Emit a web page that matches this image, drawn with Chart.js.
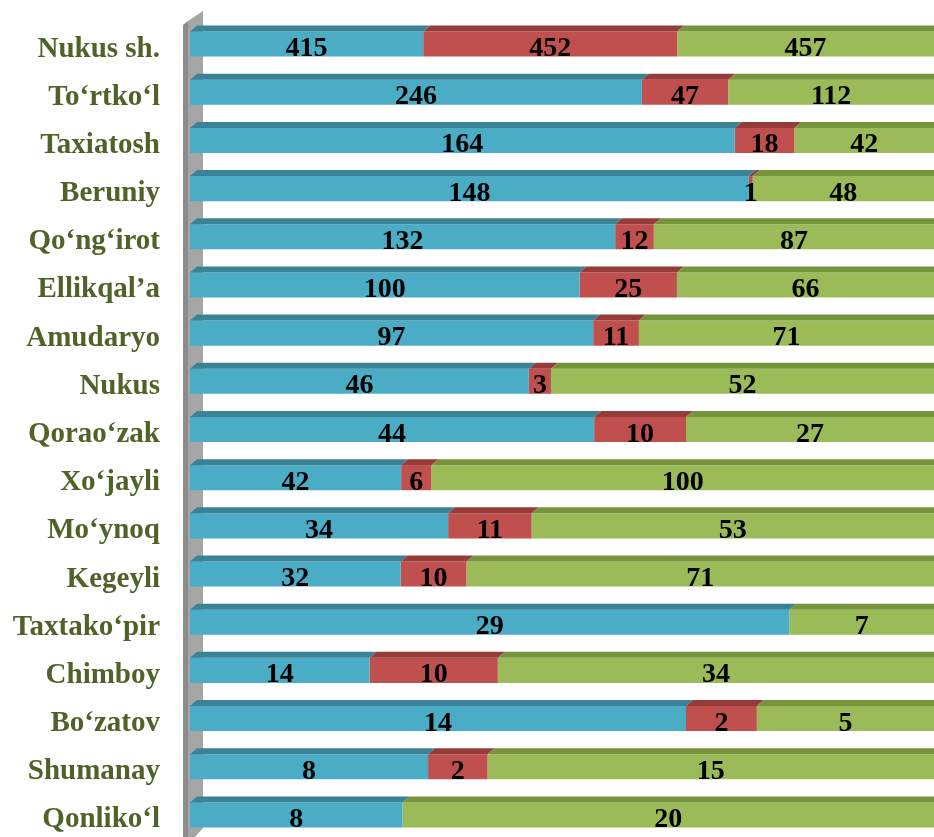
<!DOCTYPE html>
<html>
<head>
<meta charset="utf-8">
<script src="https://cdn.jsdelivr.net/npm/chart.js@4/dist/chart.umd.min.js"></script>
<style>
  html, body { margin: 0; padding: 0; background: #fff; overflow: hidden; }
  #wrap { width: 934px; height: 840px; }
</style>
</head>
<body>
<div id="wrap"><canvas id="chart" width="934" height="840"></canvas></div>
<script>
const tumanlar = ['Nukus sh.', 'To‘rtko‘l', 'Taxiatosh', 'Beruniy', 'Qo‘ng‘irot', 'Ellikqal’a', 'Amudaryo', 'Nukus',
  'Qorao‘zak', 'Xo‘jayli', 'Mo‘ynoq', 'Kegeyli', 'Taxtako‘pir', 'Chimboy', 'Bo‘zatov', 'Shumanay', 'Qonliko‘l'];
const ko_k = [415, 246, 164, 148, 132, 100, 97, 46, 44, 42, 34, 32, 29, 14, 14, 8, 8];
const qizil = [452, 47, 18, 1, 12, 25, 11, 3, 10, 6, 11, 10, 0, 10, 2, 2, 0];
const yashil = [457, 112, 42, 48, 87, 66, 71, 52, 27, 100, 53, 71, 7, 34, 5, 15, 20];

const SERIF = '"Liberation Serif", "Times New Roman", serif';

// 100% stacked: each row is turned into shares of its own total
const jami = tumanlar.map((_, i) => ko_k[i] + qizil[i] + yashil[i]);
const ulush = arr => arr.map((v, i) => v / jami[i] * 100);

const rangi = [
  { front: '#4BACC6', top: '#3A8296' },
  { front: '#C0504D', top: '#953B39' },
  { front: '#9BBB59', top: '#77933C' }
];

// gray side wall behind the bars
const devor = {
  id: 'devor',
  beforeDatasetsDraw(chart) {
    const ctx = chart.ctx;
    const L = chart.chartArea.left;
    ctx.save();
    ctx.fillStyle = '#8C8C8C';
    ctx.beginPath();
    ctx.moveTo(L - 7, 25);
    ctx.lineTo(L - 2, 21);
    ctx.lineTo(L - 2, 840);
    ctx.lineTo(L - 7, 840);
    ctx.closePath();
    ctx.fill();
    ctx.fillStyle = '#A6A6A6';
    ctx.beginPath();
    ctx.moveTo(L - 2, 21);
    ctx.lineTo(L + 13, 11);
    ctx.lineTo(L + 13, 828);
    ctx.lineTo(L + 5, 837);
    ctx.lineTo(L - 2, 840);
    ctx.closePath();
    ctx.fill();
    ctx.restore();
  }
};

// top faces of the bars and the value labels
const hajm = {
  id: 'hajm',
  afterDatasetsDraw(chart) {
    const ctx = chart.ctx;
    const dx = 7, dy = 6;
    ctx.save();
    chart.data.datasets.forEach((ds, di) => {
      chart.getDatasetMeta(di).data.forEach(bar => {
        const p = bar.getProps(['x', 'y', 'base', 'height']);
        const top = p.y - p.height / 2;
        if (p.x - p.base <= 0) return;
        ctx.fillStyle = rangi[di].top;
        ctx.beginPath();
        ctx.moveTo(p.base, top);
        ctx.lineTo(p.x, top);
        ctx.lineTo(p.x + dx, top - dy);
        ctx.lineTo(p.base + dx, top - dy);
        ctx.closePath();
        ctx.fill();
      });
    });
    ctx.font = 'bold 28px ' + SERIF;
    ctx.fillStyle = '#000';
    ctx.textAlign = 'center';
    ctx.textBaseline = 'alphabetic';
    const qiymatlar = [ko_k, qizil, yashil];
    chart.data.datasets.forEach((ds, di) => {
      chart.getDatasetMeta(di).data.forEach((bar, i) => {
        const v = qiymatlar[di][i];
        if (!v) return;
        const p = bar.getProps(['x', 'y', 'base']);
        ctx.fillText(String(v), (p.x + p.base) / 2, p.y + 12);
      });
    });
    ctx.restore();
  }
};

new Chart(document.getElementById('chart'), {
  type: 'bar',
  data: {
    labels: tumanlar,
    datasets: [ko_k, qizil, yashil].map((arr, di) => ({
      data: ulush(arr),
      backgroundColor: rangi[di].front,
      borderWidth: 0,
      barPercentage: 0.52,
      categoryPercentage: 1
    }))
  },
  options: {
    indexAxis: 'y',
    responsive: false,
    devicePixelRatio: 1,
    animation: false,
    layout: { padding: { top: 20, bottom: 1, left: 0, right: 0 } },
    plugins: { legend: { display: false }, tooltip: { enabled: false } },
    scales: {
      x: { stacked: true, min: 0, max: 100, display: false },
      y: {
        stacked: true,
        grid: { display: false },
        border: { display: false },
        afterFit(scale) {
          scale.width = 190;
          scale.paddingTop = 0;
          scale.paddingBottom = 0;
        },
        ticks: {
          color: '#4F6228',
          padding: 22,
          labelOffset: 5,
          font: { family: SERIF, size: 29, weight: 'bold' }
        }
      }
    }
  },
  plugins: [devor, hajm]
});
</script>
</body>
</html>
